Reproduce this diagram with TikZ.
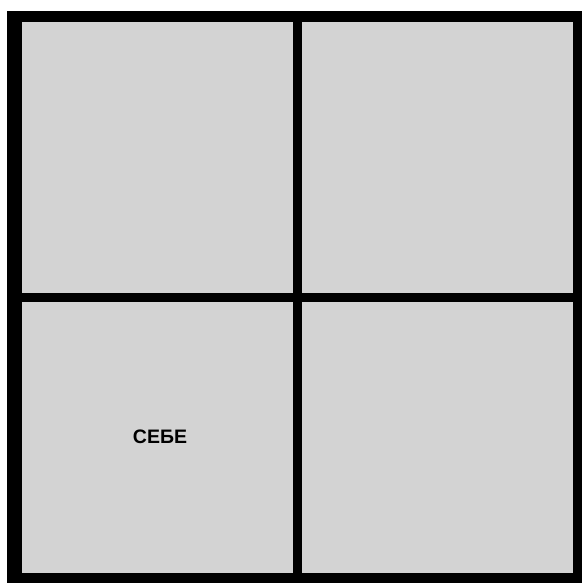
\documentclass[tikz,border=0pt]{standalone}
\usepackage{fontspec}
\setmainfont{Liberation Sans}
\definecolor{cellgray}{HTML}{D3D3D3}
\begin{document}
\begin{tikzpicture}[x=1pt,y=-1pt,
  cell/.style={fill=cellgray,draw=none},
  lbl/.style={font=\fontsize{19.5}{22}\selectfont\bfseries,text=black}]
\useasboundingbox (0,0) rectangle (582,583);
\fill[white] (0,0) rectangle (582,583);
\fill[black] (7,11) rectangle (582,583);
\fill[cell] (22,22) rectangle (293,293);
\fill[cell] (302,22) rectangle (573,293);
\fill[cell] (22,302) rectangle (293,573);
\fill[cell] (302,302) rectangle (573,573);
\node[lbl] (self) at (160,437) {СЕБЕ};
\end{tikzpicture}
\end{document}
